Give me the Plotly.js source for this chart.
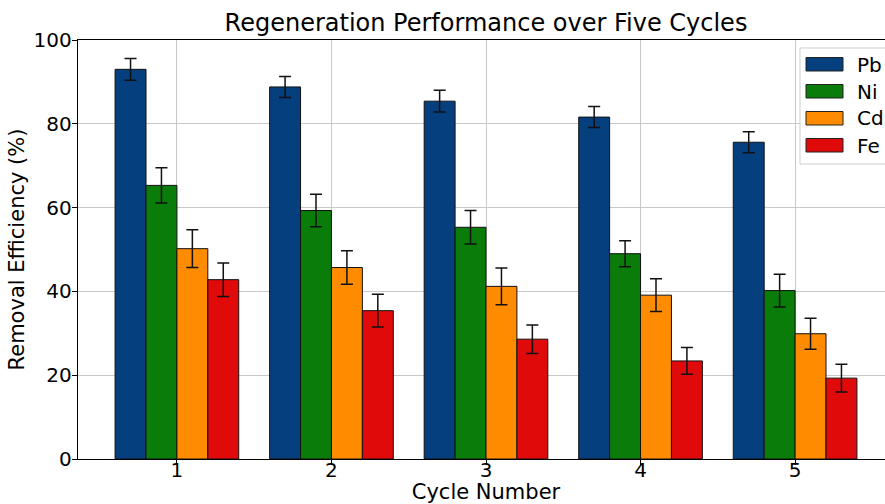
<!DOCTYPE html>
<html>
<head>
<meta charset="utf-8">
<script src="https://cdn.plot.ly/plotly-3.0.1.min.js"></script>
<style>
  html, body { margin: 0; padding: 0; overflow: hidden; background: #fff; }
  #chart { width: 894px; height: 504px; }
</style>
</head>
<body>
<div id="chart"></div>
<script>
// Regeneration cycles
const cycles = [1, 2, 3, 4, 5];

// Removal efficiency (%) per metal and cycle
const pb = [93.0, 88.8, 85.4, 81.6, 75.6];
const ni = [65.3, 59.3, 55.3, 49.0, 40.2];
const cd = [50.2, 45.7, 41.2, 39.1, 29.9];
const fe = [42.8, 35.4, 28.6, 23.4, 19.3];

// Standard deviations
const pbErr = [2.6, 2.5, 2.6, 2.5, 2.5];
const niErr = [4.2, 3.9, 4.0, 3.1, 3.9];
const cdErr = [4.5, 4.0, 4.4, 3.9, 3.7];
const feErr = [4.0, 3.9, 3.4, 3.2, 3.3];

const metals = ["Pb", "Ni", "Cd", "Fe"];
const colors = ["#063f7d", "#0a7c0a", "#ff8c00", "#e00a0a"];
const values = [pb, ni, cd, fe];
const errors = [pbErr, niErr, cdErr, feErr];

const FONT = "DejaVu Sans, Liberation Sans, sans-serif";

// Plot-area geometry (pixels) used to place the legend box
const M = { l: 78, r: 0, t: 40, b: 45 };
const W = 894, H = 504;
const plotW = W - M.l - M.r, plotH = H - M.t - M.b;
const px = p => (p - M.l) / plotW;          // pixel column -> paper x
const py = p => (H - M.b - p) / plotH;      // pixel row -> paper y

const traces = metals.map((name, i) => ({
  type: "bar",
  name: name,
  x: cycles,
  y: values[i],
  marker: { color: colors[i], line: { color: "#111", width: 1 } },
  error_y: { type: "data", array: errors[i], visible: true,
             color: "#111", thickness: 1.5, width: 6 },
  hoverinfo: "x+y+name",
  showlegend: false
}));

// Legend with wide rectangular swatches, top-right of the axes
const legendShapes = [{
  type: "rect", xref: "paper", yref: "paper", layer: "above",
  x0: px(800), x1: px(905), y0: py(164), y1: py(48),
  line: { color: "#cfcfcf", width: 1 }, fillcolor: "rgba(255,255,255,0.92)"
}];
const legendLabels = [];
metals.forEach((name, i) => {
  const top = 57.5 + 27 * i;
  legendShapes.push({
    type: "rect", xref: "paper", yref: "paper", layer: "above",
    x0: px(806), x1: px(843), y0: py(top + 13.5), y1: py(top),
    line: { color: "#222", width: 1 }, fillcolor: colors[i]
  });
  legendLabels.push({
    xref: "paper", yref: "paper", x: px(855), y: py(top + 7),
    xanchor: "left", yanchor: "middle", showarrow: false,
    text: name, font: { family: FONT, size: 20, color: "#000" }
  });
});

const layout = {
  width: W,
  height: H,
  margin: M,
  paper_bgcolor: "#fff",
  plot_bgcolor: "#fff",
  font: { family: FONT, color: "#000", size: 20 },
  title: {
    text: "Regeneration Performance over Five Cycles",
    font: { family: FONT, size: 24, color: "#000" },
    x: 0.5, xanchor: "center", xref: "paper",
    y: 1, yref: "paper", yanchor: "bottom", pad: { b: 9 }
  },
  barmode: "group",
  bargap: 0.2,
  bargroupgap: 0,
  xaxis: {
    range: [0.36, 5.64],
    tickvals: cycles,
    ticktext: cycles.map(String),
    showgrid: true, gridcolor: "#c8c8c8", gridwidth: 1,
    zeroline: false,
    showline: true, linecolor: "#000", linewidth: 1.2, mirror: true,
    ticks: "outside", ticklen: 5, tickcolor: "#000",
    ticklabelstandoff: -12,
    tickfont: { family: FONT, size: 20, color: "#000" },
    title: { text: "Cycle Number", font: { family: FONT, size: 21, color: "#000" }, standoff: 9 }
  },
  yaxis: {
    range: [0, 100],
    tickvals: [0, 20, 40, 60, 80, 100],
    showgrid: true, gridcolor: "#c8c8c8", gridwidth: 1,
    zeroline: false,
    showline: true, linecolor: "#000", linewidth: 1.2, mirror: true,
    ticks: "outside", ticklen: 5, tickcolor: "#000",
    ticklabelstandoff: -4,
    tickfont: { family: FONT, size: 20, color: "#000" },
    title: { text: "Removal Efficiency (%)", font: { family: FONT, size: 21, color: "#000" }, standoff: 3 }
  },
  shapes: legendShapes,
  annotations: legendLabels,
  showlegend: false
};

Plotly.newPlot("chart", traces, layout, { displayModeBar: false, staticPlot: true });
</script>
</body>
</html>
